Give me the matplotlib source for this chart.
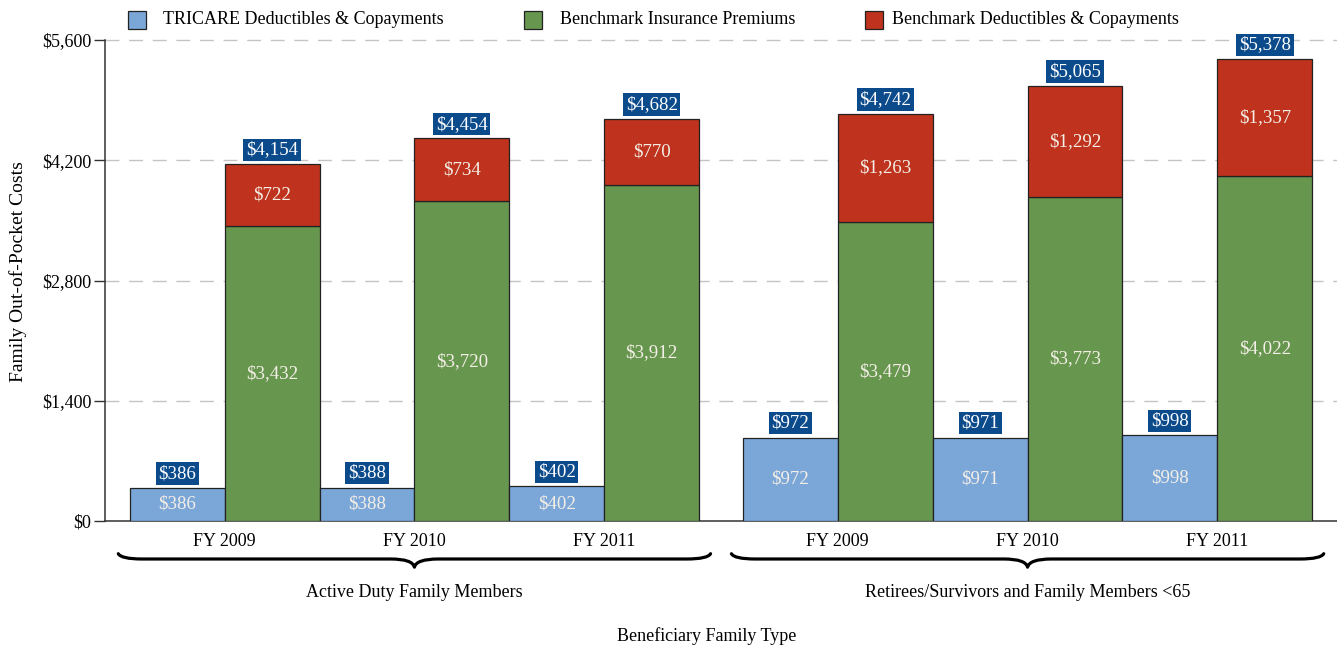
import matplotlib
matplotlib.use("Agg")
import matplotlib.pyplot as plt
import matplotlib.transforms as mtransforms
from matplotlib.path import Path
from matplotlib.patches import PathPatch, Rectangle

plt.rcParams["font.family"] = ["Liberation Serif", "DejaVu Serif"]

# ---- data -------------------------------------------------------------
groups = ["Active Duty Family Members", "Retirees/Survivors and Family Members <65"]
years = ["FY 2009", "FY 2010", "FY 2011"]
tricare = [[386, 388, 402], [972, 971, 998]]
bench_premiums = [[3432, 3720, 3912], [3479, 3773, 4022]]
bench_deduct = [[722, 734, 770], [1263, 1292, 1357]]
bench_total = [[4154, 4454, 4682], [4742, 5065, 5378]]
series_names = ["TRICARE Deductibles & Copayments",
                "Benchmark Insurance Premiums",
                "Benchmark Deductibles & Copayments"]
yticks = [0, 1400, 2800, 4200, 5600]

# ---- style ------------------------------------------------------------
c_blue = "#7ba6d8"
c_green = "#67964f"
c_red = "#bf321d"
c_navy = "#0b4a8b"
c_label = "#f4efe6"
edge = "#222222"
fs = 13.0
fs_bar = 13.6

W, H = 1337, 650
fig = plt.figure(figsize=(W / 100, H / 100), dpi=100)
ax = fig.add_axes([105 / W, 129 / H, (W - 105) / W, 481 / H])

group_offset = 6.46
bar_w = 1.0


def money(v):
    return "${:,.0f}".format(v)


def total_box(x, top, value):
    ax.annotate(money(value), xy=(x, top), xytext=(0, 4.2),
                textcoords="offset points", ha="center", va="bottom",
                color="white", fontsize=fs_bar, zorder=5,
                bbox=dict(boxstyle="square,pad=0.14", facecolor=c_navy,
                          edgecolor="none"))


xtick_pos = []
xtick_lab = []
for g in range(len(groups)):
    base = g * group_offset
    for j, yr in enumerate(years):
        xb = base + 2 * j
        xg = xb + 1
        t = tricare[g][j]
        p = bench_premiums[g][j]
        d = bench_deduct[g][j]

        ax.bar(xb, t, width=bar_w, color=c_blue, edgecolor=edge,
               linewidth=0.9, zorder=3)
        ax.text(xb, t / 2, money(t), ha="center", va="center",
                color=c_label, fontsize=fs_bar, zorder=4)
        total_box(xb, t, t)

        ax.bar(xg, p, width=bar_w, color=c_green, edgecolor=edge,
               linewidth=0.9, zorder=3)
        ax.bar(xg, d, width=bar_w, bottom=p, color=c_red, edgecolor=edge,
               linewidth=0.9, zorder=3)
        ax.text(xg, p / 2, money(p), ha="center", va="center",
                color=c_label, fontsize=fs_bar, zorder=4)
        ax.text(xg, p + d / 2, money(d), ha="center", va="center",
                color=c_label, fontsize=fs_bar, zorder=4)
        total_box(xg, p + d, bench_total[g][j])

        xtick_pos.append(xb + 0.5)
        xtick_lab.append(yr)

ax.set_xlim(-0.76, group_offset + 5 + 0.76)
ax.set_ylim(0, 5600)
ax.set_yticks(yticks)
ax.set_yticklabels([money(v) for v in yticks], fontsize=fs)
ax.set_xticks(xtick_pos)
ax.set_xticklabels(xtick_lab, fontsize=fs)
ax.tick_params(axis="x", length=0, pad=9)
ax.tick_params(axis="y", length=8, width=1.0, color="#333333", pad=2)

for s in ("top", "right"):
    ax.spines[s].set_visible(False)
for s in ("left", "bottom"):
    ax.spines[s].set_color("#333333")
    ax.spines[s].set_linewidth(1.1)

for v in yticks[1:]:
    ax.axhline(v, color="#c4c4c4", linewidth=1.0, dashes=(10, 7),
               zorder=1, clip_on=False)

# ---- curly braces under each group ------------------------------------
trans = mtransforms.blended_transform_factory(ax.transData, ax.transAxes)
y_end, y_line, y_tip = -0.068, -0.079, -0.096
for g, name in enumerate(groups):
    xm = g * group_offset + 2.5
    x0, x1 = xm - 3.12, xm + 3.12
    q = 0.25
    verts = [(x0, y_end), (x0 + 0.03, y_line), (x0 + q, y_line),
             (xm - q, y_line), (xm - 0.02, y_line), (xm, y_tip),
             (xm + 0.02, y_line), (xm + q, y_line),
             (x1 - q, y_line), (x1 - 0.03, y_line), (x1, y_end)]
    codes = [Path.MOVETO, Path.CURVE3, Path.CURVE3,
             Path.LINETO, Path.CURVE3, Path.CURVE3,
             Path.CURVE3, Path.CURVE3,
             Path.LINETO, Path.CURVE3, Path.CURVE3]
    ax.add_patch(PathPatch(Path(verts, codes), transform=trans,
                           facecolor="none", edgecolor="black",
                           linewidth=2.3, capstyle="round",
                           joinstyle="round", clip_on=False))
    ax.text(xm, -0.148, name, transform=trans, ha="center", va="center",
            fontsize=fs)

# ---- axis titles --------------------------------------------------------
fig.text(707 / W, 1 - 636 / H, "Beneficiary Family Type", ha="center",
         va="center", fontsize=fs)
fig.text(18 / W, 1 - 272 / H, "Family Out-of-Pocket Costs", rotation=90,
         ha="center", va="center", fontsize=14)

# ---- legend -------------------------------------------------------------
legend_sq = [128, 524, 865]
legend_tx = [163, 560, 892]
legend_col = [c_blue, c_green, c_red]
for sx, tx, col, name in zip(legend_sq, legend_tx, legend_col, series_names):
    fig.patches.append(Rectangle((sx / W, 1 - 29 / H), 18 / W, 18 / H,
                                 transform=fig.transFigure, facecolor=col,
                                 edgecolor="#222222", linewidth=0.9))
    fig.text(tx / W, 1 - 19 / H, name, ha="left", va="center", fontsize=fs)

fig.savefig("out.png", dpi=100)
